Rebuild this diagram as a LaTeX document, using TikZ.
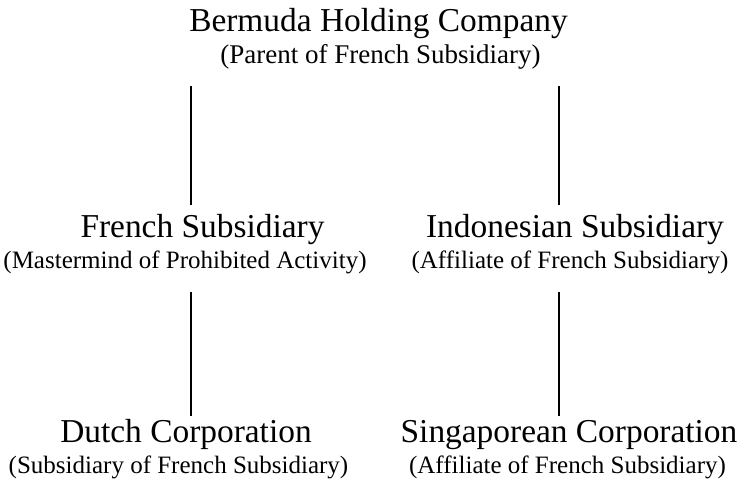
\documentclass[tikz,border=0pt]{standalone}
\usepackage{fontspec}
\setmainfont{Liberation Serif}
\begin{document}
\begin{tikzpicture}[x=1pt,y=-1pt,
  ttl/.style={inner sep=0pt,anchor=base,font=\fontsize{33.4}{38}\selectfont},
  sub/.style={inner sep=0pt,anchor=base,font=\fontsize{25}{29}\selectfont},
  link/.style={line width=1.7pt}]
\useasboundingbox (0,0) rectangle (741,485);
\node[ttl] (bt) at (378.5,31) {Bermuda Holding Company};
\node[sub,font=\fontsize{27}{31}\selectfont] (bs) at (380.5,63) {(Parent of French Subsidiary)};
\node[ttl] (ft) at (202.5,237) {French Subsidiary};
\node[sub] (fs) at (185,268) {(Mastermind of Prohibited Activity)};
\node[ttl] (it) at (575,237) {Indonesian Subsidiary};
\node[sub] (is) at (570,268) {(Affiliate of French Subsidiary)};
\node[ttl] (dt) at (186,442) {Dutch Corporation};
\node[sub] (ds) at (178.5,473) {(Subsidiary of French Subsidiary)};
\node[ttl] (st) at (569,442) {Singaporean Corporation};
\node[sub] (ss) at (567.5,473) {(Affiliate of French Subsidiary)};
\coordinate (a1) at (191,86); \coordinate (a2) at (191,205);
\coordinate (b1) at (559,86); \coordinate (b2) at (559,205);
\coordinate (c1) at (191,292); \coordinate (c2) at (191,416);
\coordinate (d1) at (559,292); \coordinate (d2) at (559,416);
\draw[link] (a1) -- (a2);
\draw[link] (b1) -- (b2);
\draw[link] (c1) -- (c2);
\draw[link] (d1) -- (d2);
\end{tikzpicture}
\end{document}
